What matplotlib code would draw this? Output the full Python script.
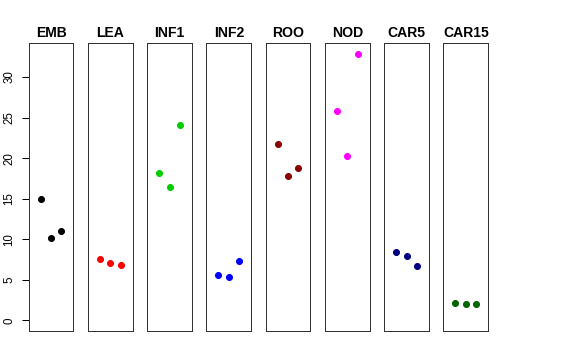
import matplotlib.pyplot as plt
import matplotlib as mpl

mpl.rcParams['font.family'] = ['Liberation Sans', 'DejaVu Sans']

# tissue samples, three replicates each
tissues = ['EMB', 'LEA', 'INF1', 'INF2', 'ROO', 'NOD', 'CAR5', 'CAR15']
values = [
    [15.0, 10.15, 10.95],
    [7.56, 7.07, 6.82],
    [18.2, 16.47, 24.08],
    [5.55, 5.30, 7.35],
    [21.74, 17.83, 18.78],
    [25.81, 20.26, 32.87],
    [8.46, 7.97, 6.73],
    [2.10, 1.97, 1.97],
]
colors = ['black', 'red', '#00CD00', 'blue', '#8B0000', 'magenta', '#000080', '#006400']
yticks = [0, 5, 10, 15, 20, 25, 30]

W, H = 576, 360
fig = plt.figure(figsize=(W / 72, H / 72), dpi=72)

ymax = max(max(v) for v in values)
pad = 0.04 * ymax
x0, pw, step = 28.7, 44.7, 59.25
top, bot = 43, 331

for i, (name, vals, col) in enumerate(zip(tissues, values, colors)):
    ax = fig.add_axes([(x0 + i * step) / W, (H - bot) / H, pw / W, (bot - top) / H])
    ax.plot([1, 2, 3], vals, 'o', color=col, ms=6, mec=col)
    ax.set_xlim(-0.16, 4.16)
    ax.set_ylim(-pad, ymax + pad)
    ax.set_xticks([])
    ax.set_title(name, fontsize=14, fontweight='bold', pad=6)
    for s in ax.spines.values():
        s.set_linewidth(1.0)
        s.set_color('#333333')
    if i == 0:
        ax.set_yticks(yticks)
        ax.tick_params(axis='y', length=7.5, width=1, labelsize=11.5, pad=6)
        for lab in ax.get_yticklabels():
            lab.set_rotation(90)
            lab.set_va('center')
    else:
        ax.set_yticks([])

fig.savefig('out.png', dpi=72)
